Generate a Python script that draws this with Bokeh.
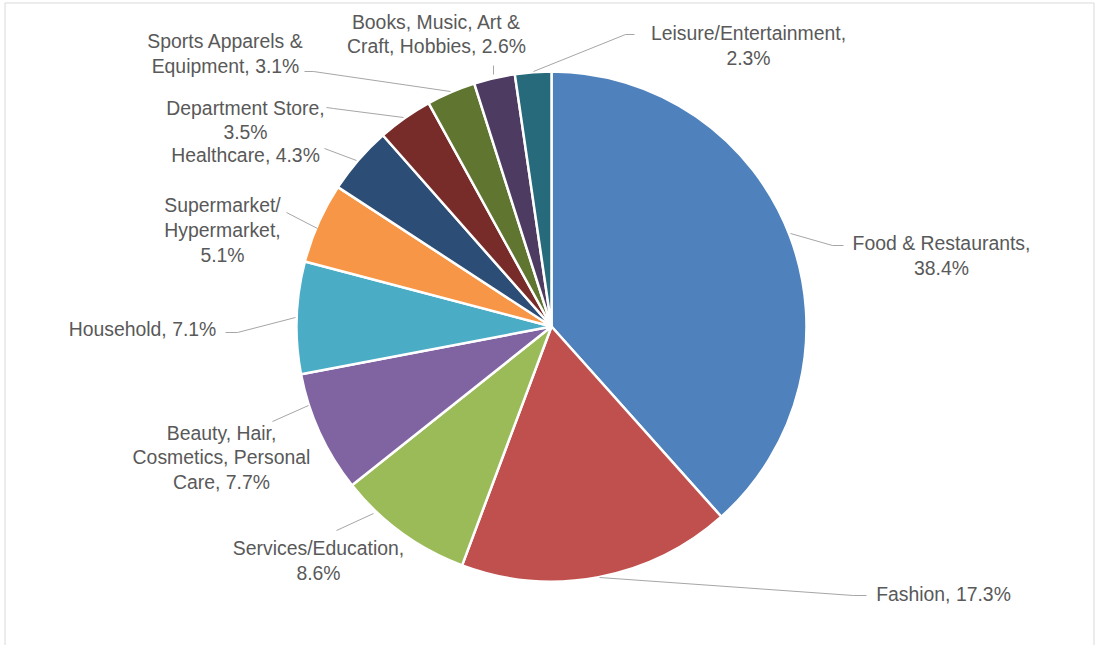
import math
from bokeh.plotting import figure
from bokeh.models import Range1d, ColumnDataSource
from bokeh.core.properties import value
from bokeh.embed import file_html
from bokeh.resources import INLINE

# ---- data (clockwise from 12 o'clock) ----
categories = [
    "Food & Restaurants",
    "Fashion",
    "Services/Education",
    "Beauty, Hair,\nCosmetics, Personal\nCare",
    "Household",
    "Supermarket/\nHypermarket",
    "Healthcare",
    "Department Store",
    "Sports Apparels &\nEquipment",
    "Books, Music, Art &\nCraft, Hobbies",
    "Leisure/Entertainment",
]
shares = [38.4, 17.3, 8.6, 7.7, 7.1, 5.1, 4.3, 3.5, 3.1, 2.6, 2.3]
label_sep = [",\n", ", ", ",\n", ", ", ", ", ",\n", ", ", ",\n", ", ", ", ", ",\n"]
colors = ["#4F81BD", "#C0504D", "#9BBB59", "#8064A2", "#4BACC6", "#F79646",
          "#2C4D75", "#772C2A", "#5F7530", "#4D3B62", "#276A7C"]

# ---- layout (image pixel coordinates, y downward) ----
W, H = 1098, 645
CX, CY, R = 551, 326, 255
label_pos = [(941, 255), (943, 593), (318, 560), (221, 457), (142, 328),
             (222, 229.5), (245, 154), (245, 119.5), (225, 53), (436, 33.5), (748, 45)]
leaders = [
    [(790, 233), (832, 245), (843, 245)],
    [(599, 577), (853, 595), (866, 595)],
    [(373, 513), (336, 530)],
    [(308, 405), (272, 421)],
    [(295, 317), (237, 332), (225, 332)],
    [(317, 228), (286, 212)],
    [(356, 160), (324, 148)],
    [(403, 117), (333, 108), (326, 107)],
    [(450, 91), (313, 71), (304, 71)],
    [(493, 74), (493, 65)],
    [(533, 71), (625, 34), (634, 34)],
]

def fy(y):
    return H - y

p = figure(width=W, height=H, x_range=Range1d(0, W), y_range=Range1d(0, H),
           output_backend="svg", toolbar_location=None, min_border=0)
p.axis.visible = False
p.grid.visible = False
p.outline_line_color = None
p.background_fill_color = "white"
p.border_fill_color = "white"

# chart area border
p.quad(left=[4.5], right=[1093.5], top=[fy(2.5)], bottom=[-5],
       fill_color=None, line_color="#d9d9d9", line_width=1)

# wedges from data
total = sum(shares)
starts, ends = [], []
c = 0.0
for v in shares:
    starts.append(math.pi / 2 - 2 * math.pi * c / total)
    c += v
    ends.append(math.pi / 2 - 2 * math.pi * c / total)

src = ColumnDataSource(dict(x=[CX] * len(shares), y=[fy(CY)] * len(shares),
                            start=starts, end=ends, color=colors))
p.wedge(x="x", y="y", radius=R, start_angle="start", end_angle="end",
        direction="clock", fill_color="color", line_color="white",
        line_width=2.5, source=src)

# leader lines
p.multi_line(xs=[[pt[0] for pt in L] for L in leaders],
             ys=[[fy(pt[1]) for pt in L] for L in leaders],
             line_color="#a6a6a6", line_width=1)

# labels
texts = [f"{cat}{sep}{v:.1f}%" for cat, sep, v in zip(categories, label_sep, shares)]
lsrc = ColumnDataSource(dict(x=[q[0] for q in label_pos], y=[fy(q[1]) for q in label_pos], t=texts))
p.text(x="x", y="y", text="t", source=lsrc, text_align="center", text_baseline="middle",
       text_font=value("Liberation Sans"), text_font_size="19.4px", text_color="#595959",
       text_line_height=1.13)

open("out.html", "w").write(file_html(p, INLINE))
